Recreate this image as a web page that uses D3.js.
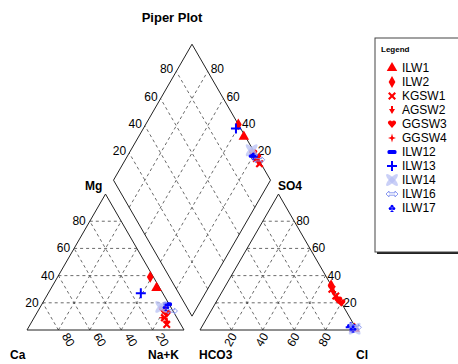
<!DOCTYPE html>
<head>
  <meta charset="utf-8">
  <script src="https://d3js.org/d3.v7.min.js"></script>
  <style>
    body { margin: 0; background: #fff; }
    text { font-family: Arial, "Liberation Sans", sans-serif; }
    .grid { stroke: #444; stroke-width: 0.8; stroke-dasharray: 3,3; fill: none; }
    .frame { stroke: #222; stroke-width: 1; fill: none; }
    .tick { font-size: 12px; fill: #000; }
    .axlab { font-size: 12px; font-weight: bold; fill: #000; }
  </style>
</head>
<body>
<script>
  // series shown in the legend
  var seriesNames = ["ILW1", "ILW2", "KGSW1", "AGSW2", "GGSW3", "GGSW4", "ILW12", "ILW13", "ILW14", "ILW16", "ILW17"];
  var seriesMarks = ["tri", "dia", "x", "arrow", "heart", "star", "bar", "plus", "bigx", "dbl", "club"];

  // samples (percent of meq), one entry per sample
  var sampleSeries = [0, 1, 2, 2, 3, 4, 4, 5, 6, 7, 8, 9, 10];
  var ca   = [2, 2, 9, 8, 8, 6, 5, 9, 1, 14, 6, 1, 3];
  var mg   = [31, 39, 4, 9, 6, 15, 12, 9, 19, 27, 17, 14, 17];
  var nak  = [67, 59, 87, 83, 86, 79, 83, 82, 80, 59, 77, 85, 80];
  var hco3 = [1, 0, 1, 1, 1, 1, 0, 1, 2, 3, 1, 0, 2];
  var so4  = [1, 33, 30, 25, 28, 22, 20, 24, 3, 2, 1, 2, 1];
  var cl   = [98, 67, 69, 74, 71, 77, 80, 75, 95, 95, 98, 98, 97];

  var ticks = [20, 40, 60, 80];

  var W = 458, H = 364;
  var svg = d3.select("body").append("svg").attr("width", W).attr("height", H);

  var x0 = 27, yBase = 330, side = 157, gap = 16;
  var s60 = Math.sqrt(3) / 2;
  var f = d3.scaleLinear().domain([0, 100]).range([0, side]);
  var x1 = x0 + side + gap;
  var db = [x0 + side + gap / 2, yBase - gap / 2 * Math.sqrt(3)];

  function cat(m, n) { return [x0 + f(n) + f(m) / 2, yBase - f(m) * s60]; }
  function ani(s, c) { return [x1 + f(c) + f(s) / 2, yBase - f(s) * s60]; }
  function dmd(n, h) {
    var a = f(100 - n), b = f(100 - h);
    return [db[0] - a / 2 + b / 2, db[1] - (a + b) * s60];
  }
  var line = function(p, q) { return "M" + p[0] + "," + p[1] + "L" + q[0] + "," + q[1]; };
  var poly = function(ps) { return "M" + ps.map(function(p) { return p[0] + "," + p[1]; }).join("L") + "Z"; };

  // title
  svg.append("text").attr("x", 172).attr("y", 22).attr("text-anchor", "middle")
    .style("font-size", "13px").style("font-weight", "bold").text("Piper Plot");

  var g = svg.append("g");

  // grids
  ticks.forEach(function(v) {
    // cation triangle
    g.append("path").attr("class", "grid").attr("d", line(cat(v, 0), cat(v, 100 - v)));
    g.append("path").attr("class", "grid").attr("d", line(cat(0, v), cat(100 - v, v)));
    g.append("path").attr("class", "grid").attr("d", line(cat(0, 100 - v), cat(100 - v, 0)));
    // anion triangle
    g.append("path").attr("class", "grid").attr("d", line(ani(v, 0), ani(v, 100 - v)));
    g.append("path").attr("class", "grid").attr("d", line(ani(0, v), ani(100 - v, v)));
    g.append("path").attr("class", "grid").attr("d", line(ani(0, 100 - v), ani(100 - v, 0)));
    // diamond
    g.append("path").attr("class", "grid").attr("d", line(dmd(v, 100), dmd(v, 0)));
    g.append("path").attr("class", "grid").attr("d", line(dmd(100, v), dmd(0, v)));
  });

  // frames
  g.append("path").attr("class", "frame").attr("d", poly([cat(0, 0), cat(0, 100), cat(100, 0)]));
  g.append("path").attr("class", "frame").attr("d", poly([ani(0, 0), ani(0, 100), ani(100, 0)]));
  g.append("path").attr("class", "frame").attr("d", poly([dmd(100, 100), dmd(100, 0), dmd(0, 0), dmd(0, 100)]));

  // tick labels
  ticks.forEach(function(v) {
    var p = cat(v, 0);
    g.append("text").attr("class", "tick").attr("x", p[0] - 4).attr("y", p[1] + 4)
      .attr("text-anchor", "end").text(v);
    p = ani(v, 100 - v);
    g.append("text").attr("class", "tick").attr("x", p[0] + 2).attr("y", p[1] + 4).text(v);
    p = dmd(0, 100 - v);
    g.append("text").attr("class", "tick").attr("x", p[0] - 3).attr("y", p[1] + 2)
      .attr("text-anchor", "end").text(v);
    p = dmd(100 - v, 0);
    g.append("text").attr("class", "tick").attr("x", p[0] + 3).attr("y", p[1] + 2).text(v);
    // bottom, rotated
    p = cat(0, 100 - v);
    g.append("text").attr("class", "tick")
      .attr("transform", "translate(" + (p[0] + 3) + "," + (yBase + 6) + ") rotate(60)").text(v);
    p = ani(0, v);
    g.append("text").attr("class", "tick").attr("text-anchor", "end")
      .attr("transform", "translate(" + (p[0] + 6) + "," + (yBase + 6) + ") rotate(-60)").text(v);
  });

  // corner labels
  [["Ca", 10, 359], ["Na+K", 148, 359], ["HCO3", 199, 359], ["Cl", 356, 359], ["Mg", 85, 190], ["SO4", 278, 190]]
    .forEach(function(d) {
      svg.append("text").attr("class", "axlab").attr("x", d[1]).attr("y", d[2]).text(d[0]);
    });

  // markers
  var red = "#ff0000", blue = "#0000ff", lav = "#b8c0f4";
  function mark(sel, type) {
    switch (type) {
      case "tri": sel.append("path").attr("d", d3.symbol(d3.symbolTriangle, 48)()).attr("fill", red); break;
      case "dia": sel.append("path").attr("d", d3.symbol(d3.symbolDiamond, 40)()).attr("fill", red); break;
      case "x": sel.append("path").attr("d", "M-4,-2.5L-2.5,-4L0,-1.5L2.5,-4L4,-2.5L1.5,0L4,2.5L2.5,4L0,1.5L-2.5,4L-4,2.5L-1.5,0Z").attr("fill", red); break;
      case "arrow": sel.append("path").attr("d", "M-1,-4L1,-4L1,-1L3,-1L0,4L-3,-1L-1,-1Z").attr("fill", red); break;
      case "heart": sel.append("path").attr("d", "M0,4L-3.8,-0.3A2,2 0 0 1 0,-2.4A2,2 0 0 1 3.8,-0.3Z").attr("fill", red); break;
      case "star": sel.append("path").attr("d", "M0,-4.5L1,-1L4,0L1,1L0,4.5L-1,1L-4,0L-1,-1Z").attr("fill", red); break;
      case "bar": sel.append("rect").attr("x", -4.5).attr("y", -2).attr("width", 9).attr("height", 4).attr("rx", 1.5).attr("fill", blue); break;
      case "plus": sel.append("path").attr("d", "M-5,0H5M0,-5V5").attr("stroke", blue).attr("stroke-width", 2); break;
      case "bigx":
        sel.append("ellipse").attr("rx", 8).attr("ry", 2.6).attr("transform", "rotate(45)").attr("fill", lav).attr("opacity", 0.75);
        sel.append("ellipse").attr("rx", 8).attr("ry", 2.6).attr("transform", "rotate(-45)").attr("fill", lav).attr("opacity", 0.75);
        break;
      case "dbl": sel.append("path").attr("d", "M-6,0L-3,-3L-3,-1.2L3,-1.2L3,-3L6,0L3,3L3,1.2L-3,1.2L-3,3Z").attr("fill", "none").attr("stroke", "#8090ee").attr("stroke-width", 0.9); break;
      case "club":
        sel.append("circle").attr("cx", 0).attr("cy", -1.8).attr("r", 1.5).attr("fill", blue);
        sel.append("circle").attr("cx", -1.8).attr("cy", 0.6).attr("r", 1.5).attr("fill", blue);
        sel.append("circle").attr("cx", 1.8).attr("cy", 0.6).attr("r", 1.5).attr("fill", blue);
        sel.append("path").attr("d", "M0,0L0,3.5M-1.5,3.5H1.5").attr("stroke", blue).attr("stroke-width", 1);
        break;
    }
  }

  var samples = sampleSeries.map(function(si, i) { return { s: si, i: i }; });
  var pts = g.append("g");
  samples.forEach(function(d) {
    var i = d.i, type = seriesMarks[d.s];
    [cat(mg[i], nak[i]), ani(so4[i], cl[i]), dmd(nak[i], hco3[i])].forEach(function(p) {
      mark(pts.append("g").attr("transform", "translate(" + p[0] + "," + p[1] + ")"), type);
    });
  });

  // legend
  var lg = svg.append("g").attr("transform", "translate(375,38)");
  lg.append("rect").attr("x", 2).attr("y", 2).attr("width", 90).attr("height", 214).attr("fill", "#222");
  lg.append("rect").attr("x", 0).attr("y", 0).attr("width", 90).attr("height", 214).attr("fill", "#fff").attr("stroke", "#444");
  lg.append("text").attr("x", 6).attr("y", 14).style("font-size", "8px").style("font-weight", "bold").text("Legend");
  seriesNames.forEach(function(n, k) {
    var y = 30 + k * 14;
    mark(lg.append("g").attr("transform", "translate(17," + y + ")"), seriesMarks[k]);
    lg.append("text").attr("x", 27).attr("y", y + 4).style("font-size", "12px").text(n);
  });
</script>
</body>
